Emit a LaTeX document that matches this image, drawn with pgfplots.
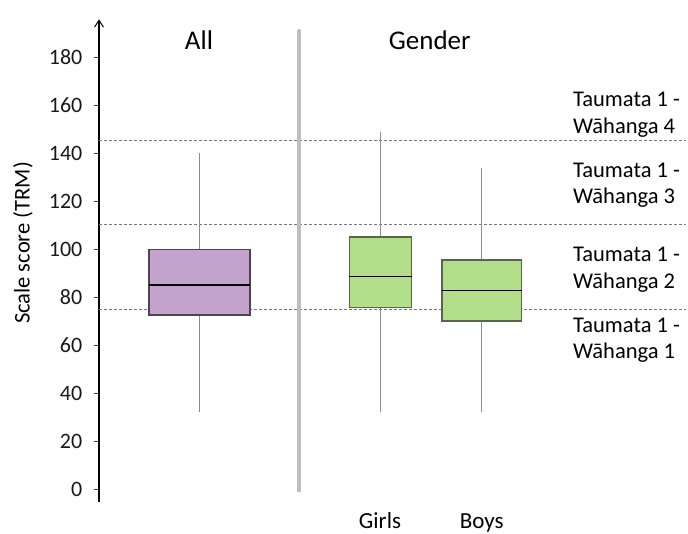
\documentclass[border=0pt]{standalone}
\usepackage{fontspec}
\setmainfont{Carlito}
\usepackage{pgfplots}
\pgfplotsset{compat=1.18}
\usepgfplotslibrary{statistics}
\usetikzlibrary{arrows.meta}

\definecolor{purplefill}{RGB}{195,163,205}
\definecolor{purpleedge}{RGB}{75,68,85}
\definecolor{greenfill}{RGB}{179,222,137}
\definecolor{greenedge}{RGB}{90,100,75}
\definecolor{whisk}{RGB}{140,140,140}
\definecolor{sepc}{RGB}{190,190,190}
\definecolor{dashc}{RGB}{120,120,120}

\begin{document}
\begin{tikzpicture}
\useasboundingbox (0,0) rectangle (688bp,534bp);
\begin{axis}[
  at={(99bp,31.7bp)}, anchor=south west,
  scale only axis, width=587bp, height=483bp,
  xmin=0, xmax=5.87, ymin=-5.4, ymax=195.8,
  axis x line=none,
  axis y line=left,
  y axis line style={line width=1.2bp, -{Straight Barb[length=7bp,width=9bp,line width=1bp]}},
  ytick={0,20,...,180},
  yticklabel={\pgfmathprintnumber{\tick}},
  tick align=outside, major tick length=5bp,
  tick style={line width=1bp, black!75},
  yticklabel style={font=\fontsize{22bp}{26bp}\selectfont, inner sep=0pt, xshift=-11.5bp, text=black!90},
  /pgf/number format/assume math mode=true,
  clip=false,
  boxplot/draw direction=y,
]
% reference levels
\addplot[dashc, line width=0.9bp, dash pattern=on 3bp off 2bp] coordinates {(0,75) (5.87,75)};
\addplot[dashc, line width=0.9bp, dash pattern=on 3bp off 2bp] coordinates {(0,110.5) (5.87,110.5)};
\addplot[dashc, line width=0.9bp, dash pattern=on 3bp off 2bp] coordinates {(0,145.5) (5.87,145.5)};
% separator
\addplot[sepc, line width=4bp, line cap=round] coordinates {(2.003,-0.5) (2.003,191)};
% All
\addplot[draw=purpleedge, fill=purplefill, line width=1.2bp,
  boxplot prepared={draw position=1.005, lower whisker=32.4, lower quartile=72.6,
    median=85.2, upper quartile=99.8, upper whisker=140.3, box extend=1.01, whisker extend=0,
    every whisker/.style={draw=whisk, line width=1.2bp},
    every median/.style={draw=black, line width=1.8bp}}] coordinates {};
% Girls
\addplot[draw=greenedge, fill=greenfill, line width=1.2bp,
  boxplot prepared={draw position=2.815, lower whisker=32.4, lower quartile=75.9,
    median=88.7, upper quartile=105.1, upper whisker=148.7, box extend=0.624, whisker extend=0,
    every whisker/.style={draw=whisk, line width=1.2bp},
    every median/.style={draw=black, line width=1.8bp}}] coordinates {};
% Boys
\addplot[draw=greenedge, fill=greenfill, line width=1.2bp,
  boxplot prepared={draw position=3.8285, lower whisker=32.4, lower quartile=70.1,
    median=82.8, upper quartile=95.5, upper whisker=133.7, box extend=0.797, whisker extend=0,
    every whisker/.style={draw=whisk, line width=1.2bp},
    every median/.style={draw=black, line width=1.8bp}}] coordinates {};
\end{axis}
% titles
\node[anchor=base, font=\fontsize{27bp}{32bp}\selectfont] at (199bp,484bp) {All};
\node[anchor=base, font=\fontsize{27bp}{32bp}\selectfont] at (429.7bp,484bp) {Gender};
% category labels
\node[anchor=base, font=\fontsize{23bp}{28bp}\selectfont] at (380bp,6bp) {Girls};
\node[anchor=base, font=\fontsize{23bp}{28bp}\selectfont] at (481.7bp,6bp) {Boys};
% y label
\node[rotate=90, anchor=base, font=\fontsize{22.5bp}{26bp}\selectfont] at (29.5bp,291bp) {Scale score (TRM)};
% level labels
\begin{scope}[every node/.style={anchor=base west, font=\fontsize{22.5bp}{26bp}\selectfont, inner sep=0pt}]
\node at (573bp,427.3bp) {Taumata 1 -};
\node at (573bp,400bp) {Wāhanga 4};
\node at (573bp,356.7bp) {Taumata 1 -};
\node at (573bp,330.7bp) {Wāhanga 3};
\node at (573bp,272.3bp) {Taumata 1 -};
\node at (573bp,245.7bp) {Wāhanga 2};
\node at (573bp,201.7bp) {Taumata 1 -};
\node at (573bp,175.7bp) {Wāhanga 1};
\end{scope}
\end{tikzpicture}
\end{document}
